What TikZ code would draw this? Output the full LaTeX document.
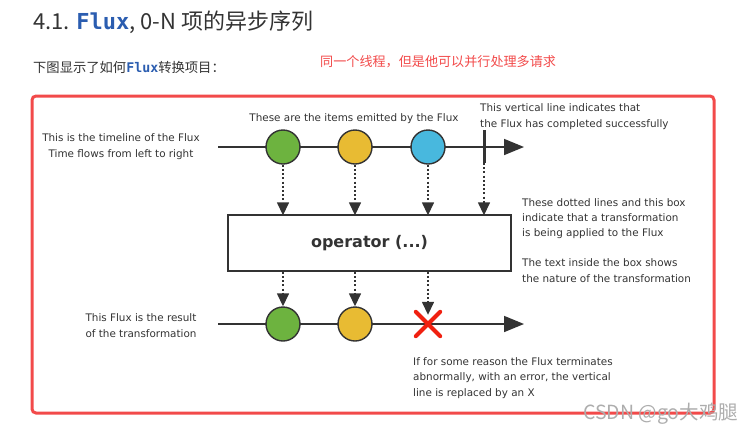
\documentclass[tikz,border=0pt]{standalone}
\usepackage{fontspec}
\setmainfont{DejaVu Sans}
\newfontfamily\cjk{Noto Sans CJK SC}
\newfontfamily\monob{DejaVu Sans Mono}
\usetikzlibrary{arrows.meta}
\definecolor{fgreen}{HTML}{6DB33F}
\definecolor{fyellow}{HTML}{E8BB33}
\definecolor{fblue}{HTML}{48B8DE}
\definecolor{ink}{HTML}{333333}
\definecolor{fred}{HTML}{F24A4A}
\definecolor{xred}{HTML}{F02010}
\definecolor{codeblue}{HTML}{2B5DB0}
\definecolor{wm}{HTML}{ADADAD}
\tikzset{
  ball/.style={circle, draw=ink, line width=1.4pt, minimum size=34pt, inner sep=0pt},
  tline/.style={draw=ink, line width=1.6pt, -{Triangle[length=20pt,width=16pt]}},
  dotarrow/.style={draw=ink, line width=1.5pt, dash pattern=on 2pt off 2.2pt, -{Triangle[length=13pt,width=12pt]}},
  note/.style={font=\fontsize{10.4}{15.2}\selectfont, text=ink, inner sep=0pt},
  opbox/.style={draw=ink, line width=1.4pt, fill=white, minimum width=283pt, minimum height=56pt, font=\fontsize{16}{18}\selectfont\bfseries, text=ink},
  xmark/.style={draw=xred, line width=4pt, line cap=round}
}
\begin{document}
\begin{tikzpicture}[x=1pt,y=-1pt]
\useasboundingbox (0,0) rectangle (750,432);
% page texts
\node[anchor=base west, inner sep=0pt, text=ink, font=\fontsize{22}{26}\selectfont\cjk] (title) at (33,29) {4.1. {\monob\bfseries\color{codeblue}Flux}, 0-N 项的异步序列};
\node[anchor=base west, inner sep=0pt, text=ink, font=\fontsize{13.3}{16}\selectfont\cjk] (intro) at (33,72) {下图显示了如何{\monob\bfseries\color{codeblue}Flux}转换项目：};
\node[anchor=base west, inner sep=0pt, text=fred, font=\fontsize{13.1}{16}\selectfont\cjk] (remark) at (320,66) {同一个线程，但是他可以并行处理多请求};
% frame
\draw[fred, line width=3pt, rounded corners=4pt] (32,96) rectangle (714,413);
% top timeline
\coordinate (t0) at (218,147);
\coordinate (t1) at (524,147);
\draw[tline] (t0) -- (t1);
\coordinate (c1) at (484,130);
\coordinate (c2) at (484,163);
\draw[ink, line width=3pt] (c1) -- (c2);
\node[ball, fill=fgreen] (g1) at (283,147) {};
\node[ball, fill=fyellow] (y1) at (355,147) {};
\node[ball, fill=fblue] (b1) at (428,147) {};
% operator box
\node[opbox] (op) at (369.5,243) {operator (...)};
% dotted arrows down into the box
\draw[dotarrow] (g1.south) -- ([yshift=-1pt]op.north -| g1);
\draw[dotarrow] (y1.south) -- ([yshift=-1pt]op.north -| y1);
\draw[dotarrow] (b1.south) -- ([yshift=-1pt]op.north -| b1);
\draw[dotarrow] (c2) -- ([yshift=-1pt]op.north -| c2);
% bottom timeline
\coordinate (r0) at (218,324);
\coordinate (r1) at (524,324);
\draw[tline] (r0) -- (r1);
\node[ball, fill=fgreen] (g2) at (283,324) {};
\node[ball, fill=fyellow] (y2) at (355,324) {};
\node[minimum size=24pt, inner sep=0pt] (err) at (428,324) {};
\draw[dotarrow] (op.south -| g2) -- (g2.north);
\draw[dotarrow] (op.south -| y2) -- (y2.north);
\draw[dotarrow] (op.south -| err) -- ([yshift=-3pt]err.north);
\draw[xmark] (err.north west) -- (err.south east);
\draw[xmark] (err.north east) -- (err.south west);
% notes (base = baseline of last line)
\node[note, align=center, anchor=base] (n1) at (121,157) {This is the timeline of the Flux\\Time flows from left to right};
\node[note, anchor=base] (n2) at (354,121) {These are the items emitted by the Flux};
\node[note, align=left, anchor=base west] (n3) at (480,127) {This vertical line indicates that\\the Flux has completed successfully};
\node[note, align=left, anchor=base west] (n4) at (522,282) {These dotted lines and this box\\indicate that a transformation\\is being applied to the Flux\\[15pt]The text inside the box shows\\the nature of the transformation};
\node[note, align=center, anchor=base] (n5) at (141,337) {This Flux is the result\\of the transformation};
\node[note, align=left, anchor=base west] (n6) at (413,396) {If for some reason the Flux terminates\\abnormally, with an error, the vertical\\line is replaced by an X};
% watermark
\node[anchor=base west, inner sep=0pt, text=wm, font=\fontsize{19.5}{22}\selectfont\cjk] (wmk) at (583,419) {CSDN @go大鸡腿};
\end{tikzpicture}
\end{document}
